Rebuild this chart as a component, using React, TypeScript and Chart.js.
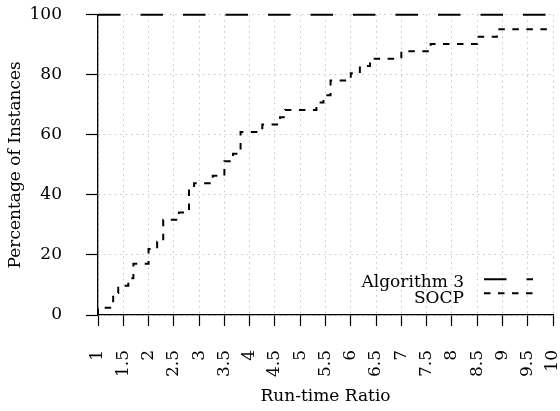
import React, { useEffect, useRef } from 'react';
import { Chart, registerables } from 'chart.js';

Chart.register(...registerables);

const seriesNames = ['Algorithm 3', 'SOCP'];
const xTickLabels = ['1', '1.5', '2', '2.5', '3', '3.5', '4', '4.5', '5', '5.5', '6', '6.5', '7', '7.5', '8', '8.5', '9', '9.5', '10'];
const yTickLabels = ['0', '20', '40', '60', '80', '100'];

const algRatios = [1, 10];
const algPercent = [100, 100];

const socpRatios = [1, 1, 1.3, 1.4, 1.6, 1.7, 2.0, 2.17, 2.29, 2.6, 2.8, 2.9, 3.27, 3.5, 3.67, 3.82, 4.25, 4.6, 4.7, 5.32, 5.46, 5.6, 6.0, 6.18, 6.38, 7.0, 7.58, 8.5, 8.89, 10];
const socpPercent = [0, 2.44, 7.32, 9.76, 12.2, 17.07, 21.95, 24.39, 31.71, 34.15, 41.46, 43.9, 46.34, 51.22, 53.66, 60.98, 63.41, 65.85, 68.29, 70.73, 73.17, 78.05, 80.49, 82.93, 85.37, 87.8, 90.24, 92.68, 95.12, 95.12];

const FAMILY = "'DejaVu Serif', serif";
const FONT_SIZE = 17;

const insideLegend = {
  id: 'insideLegend',
  afterDatasetsDraw(chart: any) {
    const { ctx, chartArea } = chart;
    ctx.save();
    ctx.font = `${FONT_SIZE}px ${FAMILY}`;
    ctx.fillStyle = '#000';
    ctx.textAlign = 'right';
    ctx.textBaseline = 'alphabetic';
    chart.data.datasets.forEach((ds: any, i: number) => {
      const yLine = chartArea.bottom - 35.7 + i * 14;
      const yText = chartArea.bottom - 28.3 + i * 16;
      ctx.fillText(ds.label, chartArea.right - 89, yText);
      ctx.beginPath();
      ctx.setLineDash(ds.borderDash);
      ctx.lineWidth = ds.borderWidth;
      ctx.strokeStyle = ds.borderColor;
      ctx.moveTo(chartArea.right - 69, yLine);
      ctx.lineTo(chartArea.right - 20, yLine);
      ctx.stroke();
    });
    ctx.restore();
  },
};

export default function App() {
  const ref = useRef<HTMLCanvasElement | null>(null);

  useEffect(() => {
    if (!ref.current) return;
    const font = { family: FAMILY, size: FONT_SIZE };
    const chart = new Chart(ref.current, {
      type: 'line',
      data: {
        datasets: [
          {
            label: seriesNames[0],
            data: algRatios.map((x, i) => ({ x, y: algPercent[i] })),
            borderColor: '#000',
            borderWidth: 2,
            borderDash: [22.5, 20],
            pointRadius: 0,
            fill: false,
            clip: false as any,
          },
          {
            label: seriesNames[1],
            data: socpRatios.map((x, i) => ({ x, y: socpPercent[i] })),
            stepped: true,
            borderColor: '#000',
            borderWidth: 2,
            borderDash: [6.5, 7.5],
            pointRadius: 0,
            fill: false,
          },
        ],
      },
      options: {
        responsive: false,
        animation: false,
        layout: { padding: { left: 0, top: 14.7, right: 7, bottom: 0 } },
        plugins: { legend: { display: false }, tooltip: { enabled: false } },
        scales: {
          x: {
            type: 'linear',
            min: 1,
            max: 10,
            ticks: {
              stepSize: 0.5,
              autoSkip: false,
              minRotation: 90,
              maxRotation: 90,
              padding: 24,
              color: '#000',
              font,
              callback: (_v: any, i: number) => xTickLabels[i],
            },
            grid: { color: '#c4c4c4', lineWidth: 1, tickColor: '#000', tickLength: 11, tickWidth: 1.2 },
            border: { display: true, color: '#000', width: 1.3, dash: [1.5, 4] },
            title: { display: true, text: 'Run-time Ratio', color: '#000', font, padding: { top: 0, bottom: 4 } },
            afterFit: (s: any) => {
              s.height = 96;
              s.paddingLeft = 0;
              s.paddingRight = 0;
            },
          },
          y: {
            type: 'linear',
            min: 0,
            max: 100,
            ticks: {
              stepSize: 20,
              padding: 24,
              color: '#000',
              font,
              callback: (_v: any, i: number) => yTickLabels[i],
            },
            grid: { color: '#c4c4c4', lineWidth: 1, tickColor: '#000', tickLength: 12, tickWidth: 1.2 },
            border: { display: true, color: '#000', width: 1.3, dash: [1.5, 4] },
            title: { display: true, text: 'Percentage of Instances', color: '#000', font, padding: { top: 5, bottom: 0 } },
            afterFit: (s: any) => {
              s.width = 98;
              s.paddingTop = 0;
              s.paddingBottom = 0;
            },
          },
        },
      } as any,
      plugins: [insideLegend],
    });
    return () => chart.destroy();
  }, []);

  return (
    <div style={{ position: 'fixed', left: 0, top: 0, width: 560, height: 411, background: '#fff' }}>
      <canvas ref={ref} width={560} height={411} />
    </div>
  );
}
